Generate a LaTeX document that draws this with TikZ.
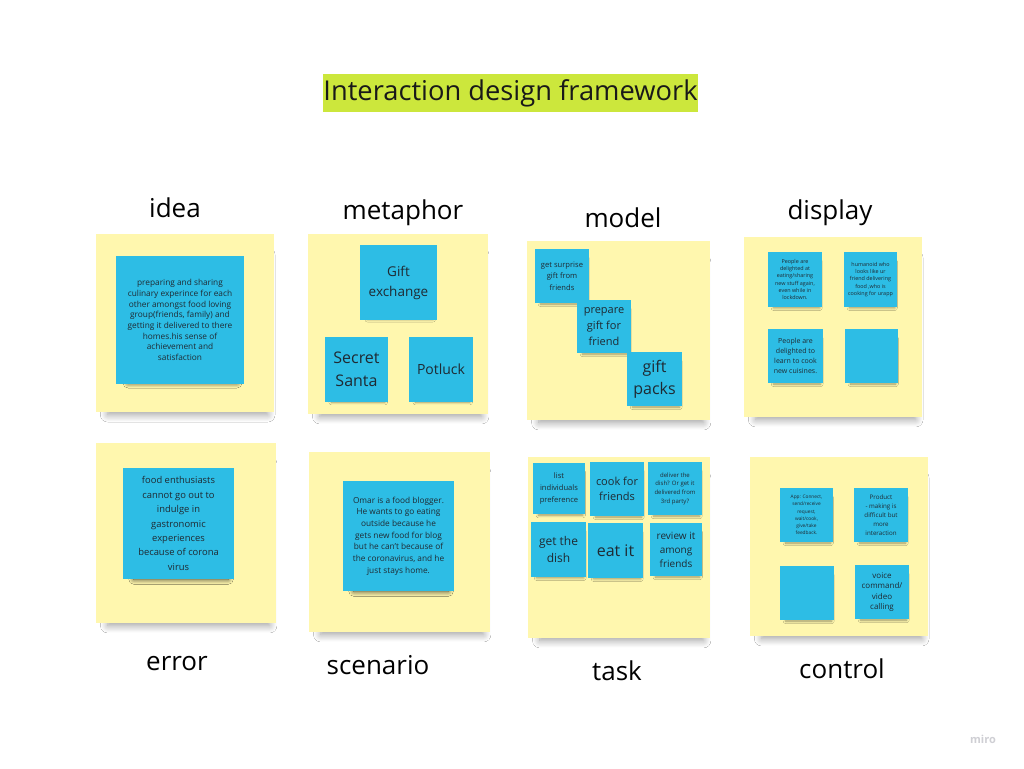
\documentclass[tikz,border=0pt]{standalone}
\usepackage{fontspec}
\setmainfont{Open Sans}
\usetikzlibrary{shadows.blur}
\definecolor{noteyellow}{HTML}{FFF7AE}
\definecolor{noteblue}{HTML}{2DBDE5}
\definecolor{titlelime}{HTML}{CCE73C}
\definecolor{notetext}{HTML}{1F2A33}
\definecolor{logogray}{HTML}{CFCFD4}
\newcommand\fs[2]{\fontsize{#1}{#2}\selectfont}
\begin{document}
\begin{tikzpicture}[x=1pt,y=-1pt,
  sz/.style 2 args={minimum width=#1pt, minimum height=#2pt},
  ynote/.style={fill=noteyellow, inner sep=0pt, sz={180}{180},
    blur shadow={shadow xshift=3pt, shadow yshift=-13pt, shadow blur radius=8pt, shadow blur steps=12, shadow opacity=38, shadow scale=0.9}},
  bnote/.style={fill=noteblue, inner sep=0pt, align=center, text=notetext,
    blur shadow={shadow xshift=2pt, shadow yshift=-6pt, shadow blur radius=3pt, shadow blur steps=8, shadow opacity=40, shadow scale=0.85}},
  bignote/.style={bnote,
    blur shadow={shadow xshift=3pt, shadow yshift=-10pt, shadow blur radius=6pt, shadow blur steps=10, shadow opacity=42, shadow scale=0.85}},
  heading/.style={font=\fs{26}{31}, text=black, inner sep=0pt}
]
\useasboundingbox[fill=white] (0,0) rectangle (1024,768);

% title
\node[fill=titlelime, sz={375}{38}, inner sep=0pt, font=\fs{27.3}{32}, text=black!90] (title) at (510.5,93) {Interaction design framework};

% headings
\node[heading] (hIdea) at (175,208) {idea};
\node[heading] (hMeta) at (403,213) {metaphor};
\node[heading] (hModel) at (623,218) {model};
\node[heading] (hDisp) at (830,213) {display};
\node[heading] (hErr) at (177,664) {error};
\node[heading] (hScen) at (378,665) {scenario};
\node[heading] (hTask) at (617,671) {task};
\node[heading] (hCtrl) at (842,669) {control};

% yellow boards
\node[ynote, sz={178}{178}] (yIdea) at (185,323) {};
\node[ynote] (yMeta) at (398,324) {};
\node[ynote, sz={183}{179}] (yModel) at (618.5,330.5) {};
\node[ynote, sz={178}{180}] (yDisp) at (833,327) {};
\node[ynote] (yErr) at (186,533) {};
\node[ynote, sz={181}{180}] (yScen) at (399.5,542) {};
\node[ynote, sz={182}{181}] (yTask) at (619,547.5) {};
\node[ynote, sz={178}{179}] (yCtrl) at (839,546.5) {};

% idea
\node[bignote, sz={128}{128}, font=\fs{8.3}{10.7}] (bIdea) at (180,320)
  {preparing and sharing\\culinary experince for each\\other amongst food loving\\group(friends, family) and\\getting it delivered to there\\homes.his sense of\\achievement and\\satisfaction};

% metaphor
\node[bnote, sz={77}{75}, font=\fs{13.5}{20}] (bGift) at (398.5,282.5) {Gift\\exchange};
\node[bnote, sz={63}{65}, font=\fs{16}{23}] (bSanta) at (356.5,369.5) {Secret\\Santa};
\node[bnote, sz={64}{65}, font=\fs{14}{18}] (bPot) at (441,369.5) {Potluck};

% model
\node[bnote, sz={54}{54}, font=\fs{7.6}{11.5}] (bSurp) at (562,276) {get surprise\\gift from\\friends};
\node[bnote, sz={54}{53}, font=\fs{11}{15.7}] (bPrep) at (604,326.5) {prepare\\gift for\\friend};
\node[bnote, sz={55}{54}, font=\fs{16}{21.7}] (bPacks) at (654.5,379) {gift\\packs};

% display
\node[bnote, sz={54}{55}, font=\fs{5.4}{7.2}] (bD1) at (795,279.5) {People are\\delighted at\\eating/sharing\\new stuff again,\\even while in\\lockdown.};
\node[bnote, sz={53}{55}, font=\fs{5.4}{7.2}] (bD2) at (870.5,279.5) {humanoid who\\looks like ur\\friend delivering\\food ,who is\\cooking for urapp};
\node[bnote, sz={55}{54}, font=\fs{7}{10}] (bD3) at (795.5,356) {People are\\delighted to\\learn to cook\\new cuisines.};
\node[bnote, sz={53}{54}] (bD4) at (871.5,356) {};

% error
\node[bignote, sz={111}{111}, font=\fs{9.4}{14.4}] (bErr) at (178.5,523.5) {food enthusiasts\\cannot go out to\\indulge in\\gastronomic\\experiences\\because of corona\\virus};

% scenario
\node[bignote, sz={111}{110}, font=\fs{8.3}{11.7}] (bScen) at (398.5,536) {Omar is a food blogger.\\He wants to go eating\\outside because he\\gets new food for blog\\but he can't because of\\the coronavirus, and he\\just stays home.};

% task
\node[bnote, sz={52}{51}, font=\fs{7.6}{11.7}] (bT1) at (559,488.5) {list\\individuals\\preference};
\node[bnote, sz={54}{54}, font=\fs{11}{15}] (bT2) at (617,489) {cook for\\friends};
\node[bnote, sz={54}{53}, font=\fs{6}{8.7}] (bT3) at (675,488.5) {deliver the\\dish? Or get it\\delivered from\\3rd party?};
\node[bnote, sz={55}{55}, font=\fs{12}{17.7}] (bT4) at (558.5,549.5) {get the\\dish};
\node[bnote, sz={55}{55}, font=\fs{16}{20}] (bT5) at (615.5,550.5) {eat it};
\node[bnote, sz={52}{53}, font=\fs{10}{14}] (bT6) at (676,549.5) {review it\\among\\friends};

% control
\node[bnote, sz={53}{54}, font=\fs{4.8}{7.3}] (bC1) at (806.5,515) {App: Connect,\\send/receive\\request,\\wait/cook,\\give/take\\feedback.};
\node[bnote, sz={54}{54}, font=\fs{6.2}{8.9}] (bC2) at (881,515) {Product\\- making is\\difficult but\\more\\interaction};
\node[bnote, sz={54}{54}] (bC3) at (807,593) {};
\node[bnote, sz={54}{54}, font=\fs{8}{10.3}] (bC4) at (882,592) {voice\\command/\\video\\calling};

% logo
\node[font=\fs{11}{13}\bfseries, text=logogray, inner sep=0pt] (logo) at (983,739) {miro};
\end{tikzpicture}
\end{document}
